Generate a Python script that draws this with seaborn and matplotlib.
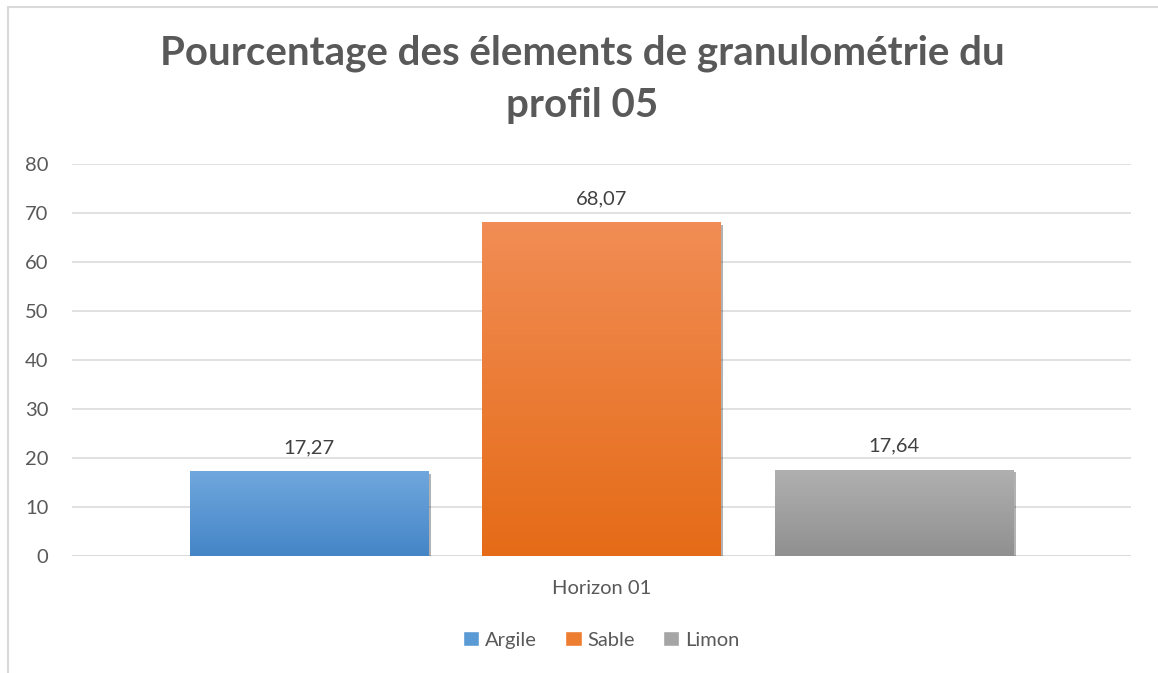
import numpy as np
import pandas as pd
import matplotlib
matplotlib.use("Agg")
import matplotlib.pyplot as plt
import matplotlib.patheffects as pe
from matplotlib.colors import LinearSegmentedColormap
from matplotlib.patches import Patch, Rectangle
import seaborn as sns

# ── Data ─────────────────────────────────────────────────────────────────────
HORIZONS   = ["Horizon 01"]
ELEMENTS   = ["Argile", "Sable", "Limon"]
VALUES     = [17.27, 68.07, 17.64]
Y_TICKS    = [0, 10, 20, 30, 40, 50, 60, 70, 80]
TITLE      = "Pourcentage des élements de granulométrie du\nprofil 05"

# top / bottom colours of the Excel-style gradient, and flat legend colour
GRAD_TOP    = {"Argile": "#70a7dd", "Sable": "#f18d55", "Limon": "#b0b0b0"}
GRAD_BOTTOM = {"Argile": "#4485c7", "Sable": "#e56b17", "Limon": "#909090"}
FLAT        = {"Argile": "#5b9bd5", "Sable": "#ed7d31", "Limon": "#a5a5a5"}

TEXT_GREY = "#595959"
GRID_GREY = "#d9d9d9"

df = pd.DataFrame({
    "horizon": HORIZONS * len(ELEMENTS),
    "element": ELEMENTS,
    "value": VALUES,
})

sns.set_theme(style="white")
plt.rcParams["font.family"] = ["Lato", "DejaVu Sans"]

fig = plt.figure(figsize=(11.58, 6.73), dpi=100)
ax = fig.add_axes([0.0622, 0.1738, 0.9145, 0.5825])

sns.barplot(data=df, x="horizon", y="value", hue="element",
            hue_order=ELEMENTS, palette=FLAT, width=0.829, gap=0.186,
            legend=False, ax=ax, zorder=3, edgecolor="none")

# gradient overlay + soft shadow on each bar
for patch, name in zip(ax.patches, ELEMENTS):
    patch.set_path_effects([pe.SimplePatchShadow(offset=(2, -2),
                                                 shadow_rgbFace="#000000",
                                                 alpha=0.3), pe.Normal()])
    x0, y0 = patch.get_x(), patch.get_y()
    w, h = patch.get_width(), patch.get_height()
    cmap = LinearSegmentedColormap.from_list(name, [GRAD_TOP[name], GRAD_BOTTOM[name]])
    grad = np.linspace(0, 1, 256).reshape(-1, 1)
    im = ax.imshow(grad, cmap=cmap, aspect="auto", extent=(x0, x0 + w, y0, y0 + h),
                   origin="upper", zorder=4)
    im.set_clip_path(patch)

labels = [f"{v:.2f}".replace(".", ",") for v in VALUES]
for patch, lab in zip(ax.patches, labels):
    ax.annotate(lab, (patch.get_x() + patch.get_width() / 2, patch.get_height()),
                xytext=(0, 11), textcoords="offset points", ha="center", va="bottom",
                fontsize=14.5, color="#404040", zorder=5)

ax.set_xlim(-0.5, 0.5)
ax.set_ylim(0, 80)
ax.set_yticks(Y_TICKS)
ax.yaxis.grid(True, color=GRID_GREY, linewidth=1.1, zorder=0)
ax.set_axisbelow(True)
for s in ax.spines.values():
    s.set_visible(False)
ax.axhline(0, color=GRID_GREY, linewidth=1.1, zorder=2)
ax.tick_params(axis="y", length=0, pad=17, labelsize=14.5, labelcolor=TEXT_GREY)
ax.tick_params(axis="x", length=0, pad=17, labelsize=14.5, labelcolor=TEXT_GREY)
ax.set_xlabel("")
ax.set_ylabel("")

fig.suptitle(TITLE, x=0.503, y=0.948, fontsize=29, fontweight="bold",
             color=TEXT_GREY, linespacing=1.5, va="top")

handles = [Patch(facecolor=FLAT[n], label=n) for n in ELEMENTS]
ax.legend(handles=handles, loc="center", bbox_to_anchor=(0.5, -0.214), ncol=3,
          frameon=False, fontsize=14.5, handlelength=0.8, handleheight=0.8,
          handletextpad=0.3, columnspacing=1.4, labelcolor=TEXT_GREY)

# outer chart border (left and top edges visible in the reference)
fig.add_artist(Rectangle((0.007, -0.05), 1.1, 1.04, transform=fig.transFigure,
                         fill=False, edgecolor=GRID_GREY, linewidth=1.5))

fig.savefig("out.png", dpi=100, facecolor="white")
